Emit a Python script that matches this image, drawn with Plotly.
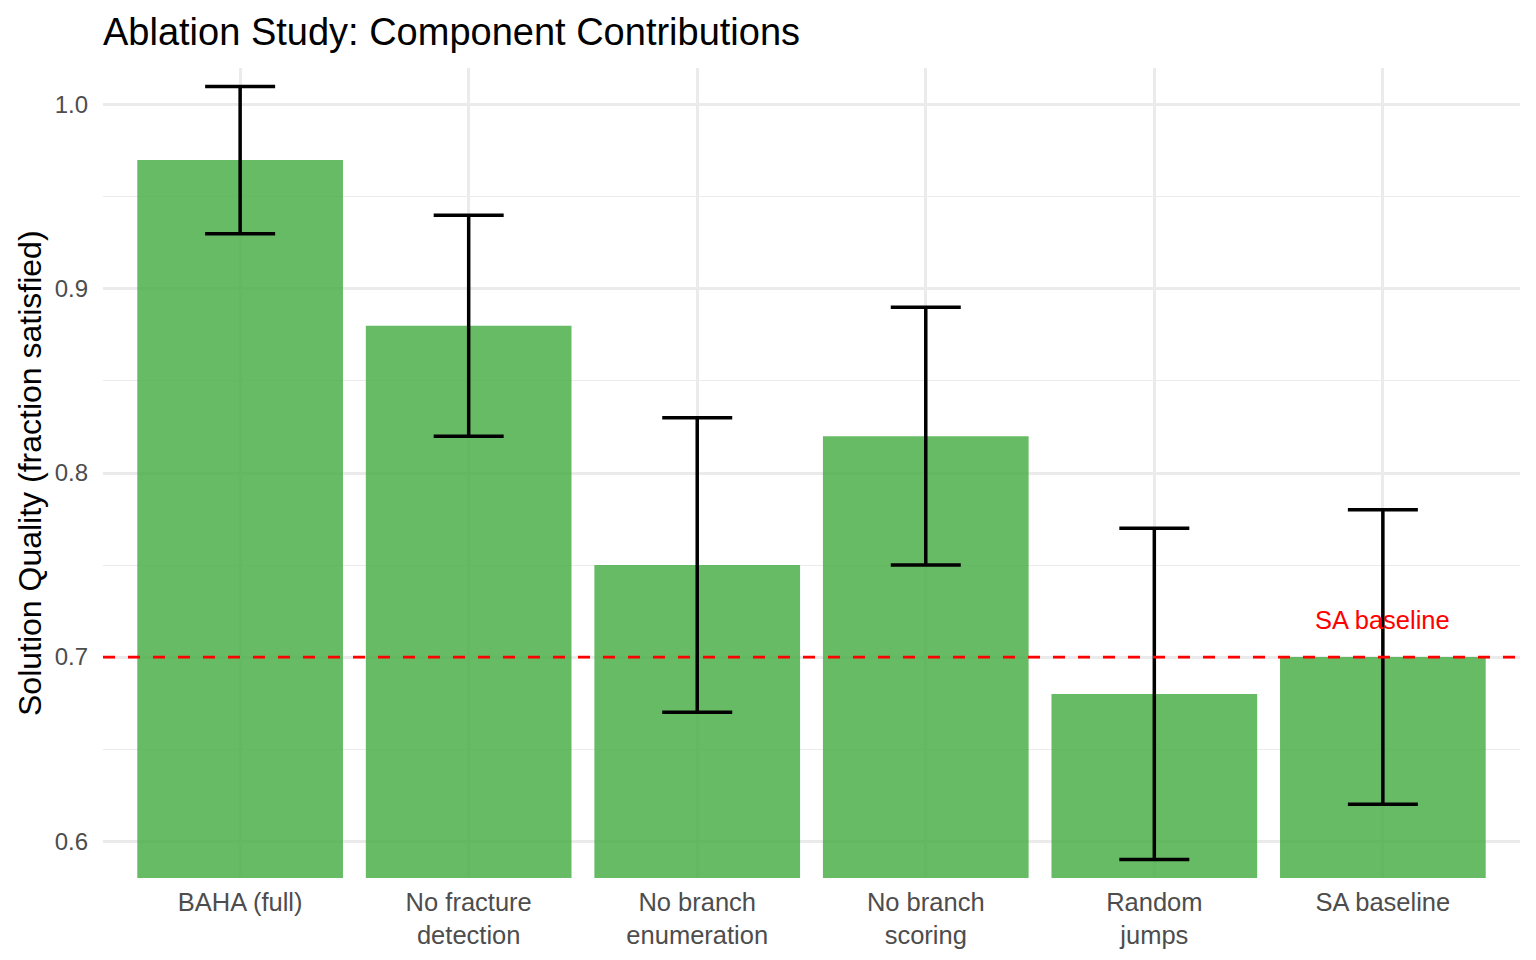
import plotly.graph_objects as go

categories = ["BAHA (full)", "No fracture<br>detection", "No branch<br>enumeration",
              "No branch<br>scoring", "Random<br>jumps", "SA baseline"]
quality = [0.97, 0.88, 0.75, 0.82, 0.68, 0.70]
errors = [0.04, 0.06, 0.08, 0.07, 0.09, 0.08]
baseline_value = 0.70
baseline_label = "SA baseline"
y_ticks = [0.6, 0.7, 0.8, 0.9, 1.0]
y_tick_text = ["0.6", "0.7", "0.8", "0.9", "1.0"]

FONT = "Liberation Sans, Arial, Helvetica, sans-serif"

# page has an 8px body margin; size the figure so the plot lands where the reference has it
W, H = 1528, 952
ML, MR, MT, MB = 95, 16, 60, 82
PW = W - ML - MR

fig = go.Figure()
fig.add_trace(go.Bar(
    x=categories, y=quality, width=0.9,
    base=0.0,
    marker=dict(color="rgba(77,175,74,0.85)", line=dict(width=0)),
    error_y=dict(type="data", array=errors, visible=True, color="black",
                 thickness=3.5, width=35),
    showlegend=False,
))

fig.add_shape(type="line", xref="paper", x0=0, x1=1, yref="y",
              y0=baseline_value, y1=baseline_value,
              line=dict(color="red", width=2.8, dash="12px,13px"), layer="above")
fig.add_annotation(x=categories[-1], y=baseline_value + 0.02, text=baseline_label,
                   showarrow=False, font=dict(color="red", size=25.5, family=FONT),
                   xanchor="center", yanchor="middle")
fig.add_annotation(text="Solution Quality (fraction satisfied)", textangle=-90,
                   xref="paper", yref="paper", x=(22 - ML) / PW, y=0.5,
                   xanchor="center", yanchor="middle", showarrow=False,
                   font=dict(size=32, color="black", family=FONT))

fig.update_layout(
    width=W, height=H,
    margin=dict(l=ML, r=MR, t=MT, b=MB),
    paper_bgcolor="white", plot_bgcolor="white",
    font=dict(family=FONT, color="#4D4D4D", size=25),
    title=dict(text="Ablation Study: Component Contributions", x=ML / W,
               xanchor="left", xref="container", y=1 - 24 / H, yref="container",
               yanchor="middle", font=dict(size=38, color="black", family=FONT)),
    bargap=0.1,
)
fig.update_xaxes(range=[-0.6, 5.6], showgrid=True, gridcolor="#EBEBEB", gridwidth=2.5,
                 showline=False, zeroline=False, ticks="", ticklabelstandoff=6,
                 tickfont=dict(size=25.5, color="#4D4D4D"))
fig.update_yaxes(range=[0.58, 1.02], tickvals=y_ticks, ticktext=y_tick_text,
                 showgrid=True, gridcolor="#EBEBEB", gridwidth=2.5,
                 minor=dict(dtick=0.05, tick0=0.55, showgrid=True, gridcolor="#EBEBEB", gridwidth=1.3),
                 showline=False, zeroline=False, ticks="", ticklabelstandoff=14,
                 tickfont=dict(size=24, color="#4D4D4D"))

fig.write_html("out.html")
